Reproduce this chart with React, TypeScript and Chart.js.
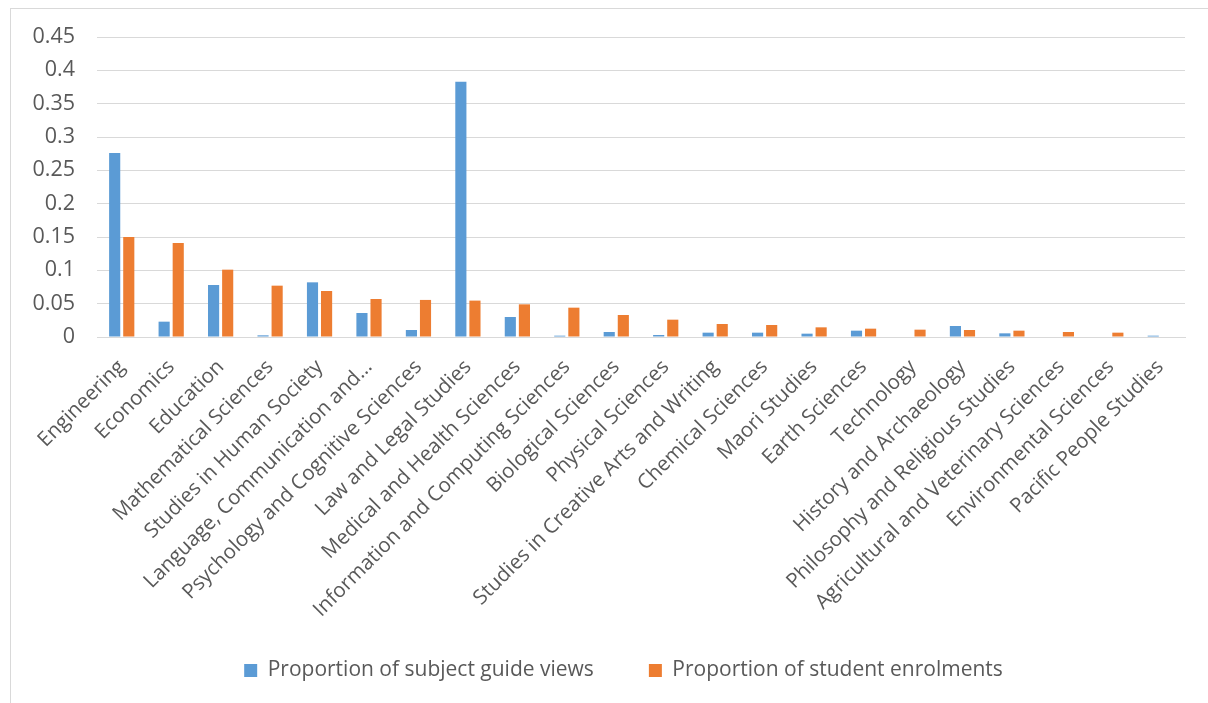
import React, { useEffect, useRef } from "react";
import { Chart, registerables } from "chart.js";

Chart.register(...registerables);

const categories = [
  "Engineering",
  "Economics",
  "Education",
  "Mathematical Sciences",
  "Studies in Human Society",
  "Language, Communication and…",
  "Psychology and Cognitive Sciences",
  "Law and Legal Studies",
  "Medical and Health Sciences",
  "Information and Computing Sciences",
  "Biological Sciences",
  "Physical Sciences",
  "Studies in Creative Arts and Writing",
  "Chemical Sciences",
  "Maori Studies",
  "Earth Sciences",
  "Technology",
  "History and Archaeology",
  "Philosophy and Religious Studies",
  "Agricultural and Veterinary Sciences",
  "Environmental Sciences",
  "Pacific People Studies",
];

const guideViews = [
  0.276, 0.023, 0.078, 0.0025, 0.082, 0.036, 0.0105, 0.383, 0.03, 0.002, 0.0075,
  0.003, 0.0065, 0.0065, 0.005, 0.0095, 0, 0.0165, 0.0055, 0, 0, 0.002,
];

const enrolments = [
  0.15, 0.141, 0.101, 0.077, 0.069, 0.057, 0.0556, 0.0546, 0.049, 0.044, 0.033,
  0.026, 0.0195, 0.018, 0.0145, 0.0125, 0.011, 0.0105, 0.0095, 0.0075, 0.0065, 0,
];

const seriesNames = ["Proportion of subject guide views", "Proportion of student enrolments"];
const yTicks = [0, 0.05, 0.1, 0.15, 0.2, 0.25, 0.3, 0.35, 0.4, 0.45];

const FONT = "'Open Sans', 'Noto Sans', sans-serif";
const TEXT = "#595959";

const borderPlugin = {
  id: "outerBorder",
  beforeLayout(chart: any) {
    const l = chart.legend;
    if (l && !l.__patched) {
      l.__patched = true;
      const origFit = l.fit;
      l.fit = function (this: any) {
        origFit.call(this);
        this.height = 50;
      };
    }
  },
  afterLayout(chart: any) {
    const l = chart.legend;
    if (l) {
      l.left += 31;
      l.right += 31;
      l.top = 605;
      l.bottom = 703;
      l.height = 98;
    }
  },
  beforeDraw(chart: any) {
    const ctx = chart.ctx;
    ctx.save();
    ctx.fillStyle = "#ffffff";
    ctx.fillRect(0, 0, chart.width, chart.height);
    ctx.strokeStyle = "#d9d9d9";
    ctx.lineWidth = 1;
    ctx.strokeRect(10.5, 8.5, 1400, 900);
    ctx.restore();
  },
};

export default function App() {
  const ref = useRef<HTMLCanvasElement>(null);

  useEffect(() => {
    if (!ref.current) return;
    const chart = new Chart(ref.current, {
      type: "bar",
      data: {
        labels: categories,
        datasets: [
          {
            label: seriesNames[0],
            data: guideViews,
            backgroundColor: "#5B9BD5",
            categoryPercentage: 0.57,
            barPercentage: 0.79,
          },
          {
            label: seriesNames[1],
            data: enrolments,
            backgroundColor: "#ED7D31",
            categoryPercentage: 0.57,
            barPercentage: 0.79,
          },
        ],
      },
      options: {
        responsive: false,
        animation: false,
        layout: { padding: { top: 37, right: 23, left: 0, bottom: 1 } },
        plugins: {
          tooltip: { enabled: false },
          legend: {
            position: "bottom",
            labels: {
              font: { family: FONT, size: 21 },
              color: TEXT,
              boxWidth: 13,
              boxHeight: 13,
              padding: 55,
            },
          },
        },
        scales: {
          x: {
            grid: { display: false, drawTicks: false },
            border: { display: true, color: "#d9d9d9", width: 1 },
            ticks: {
              font: { family: FONT, size: 20.5 },
              color: TEXT,
              minRotation: 45,
              maxRotation: 45,
              autoSkip: false,
              padding: 18,
            },
            afterFit: (scale: any) => {
              scale.height = 315;
            },
          },
          y: {
            min: 0,
            max: 0.45,
            afterBuildTicks: (scale: any) => {
              scale.ticks = yTicks.map((v) => ({ value: v }));
            },
            grid: { color: "#d9d9d9", lineWidth: 1, drawTicks: false },
            border: { display: false },
            ticks: {
              font: { family: FONT, size: 21.5 },
              color: TEXT,
              padding: 22,
              autoSkip: false,
              callback: (v: any) => String(Number(Number(v).toFixed(2))),
            },
            afterFit: (scale: any) => {
              scale.width = 97;
            },
          },
        },
      },
      plugins: [borderPlugin],
    });
    return () => chart.destroy();
  }, []);

  return (
    <div style={{ position: "absolute", left: 0, top: 0, width: 1208, height: 703, overflow: "hidden", background: "#fff" }}>
      <canvas ref={ref} width={1208} height={703} />
    </div>
  );
}
